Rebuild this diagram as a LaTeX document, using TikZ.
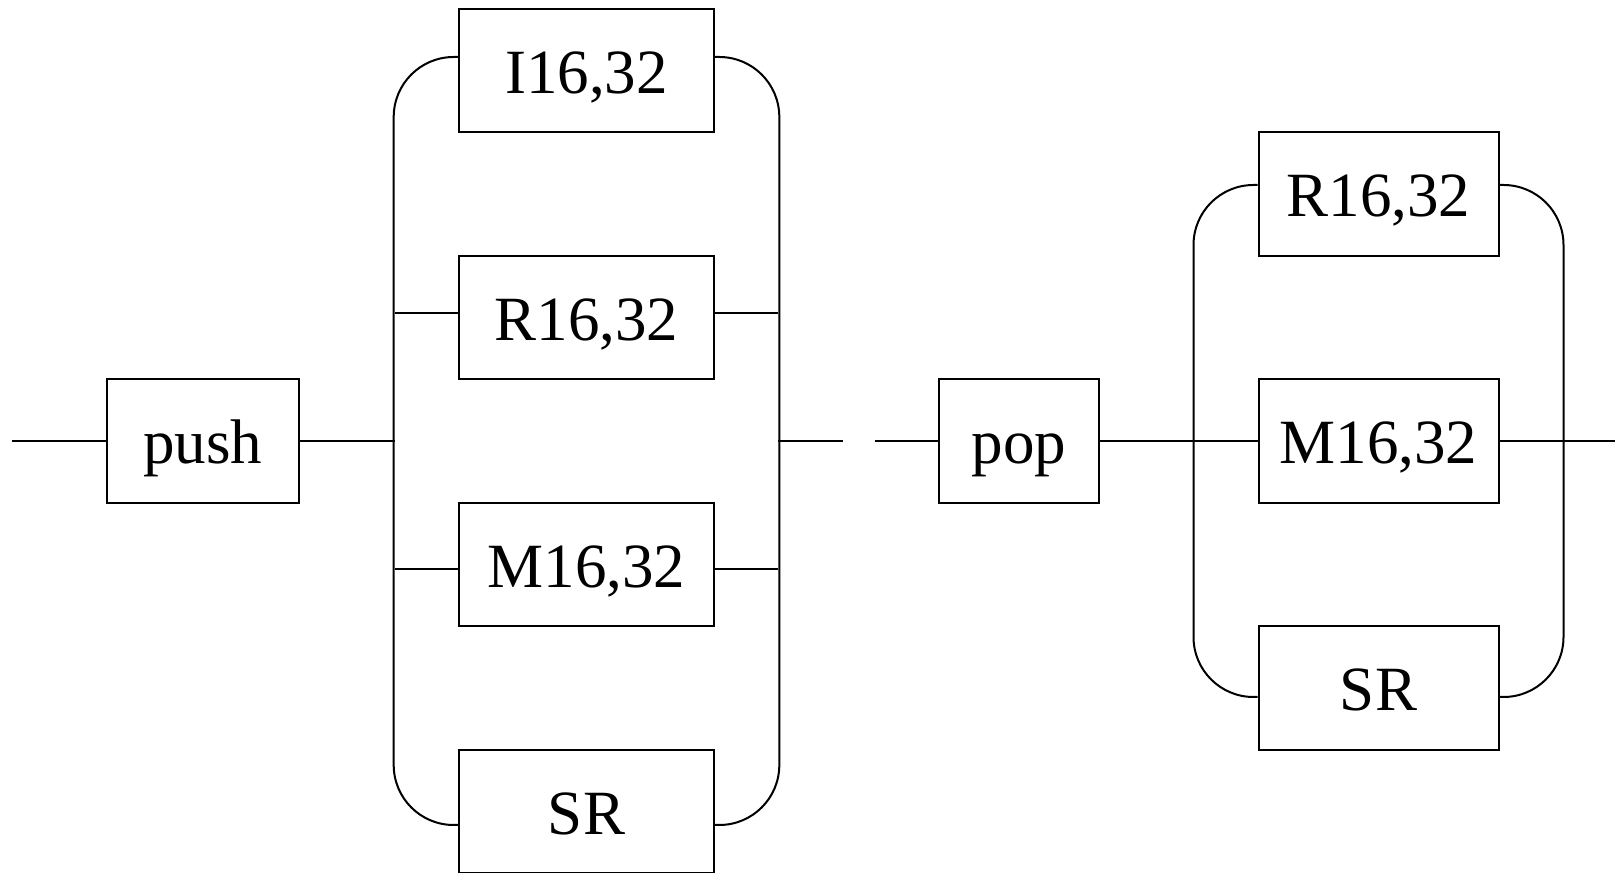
\documentclass[tikz,border=0pt]{standalone}
\usepackage{fontspec}
\setmainfont{Liberation Serif}
\usetikzlibrary{calc}
\begin{document}
\begin{tikzpicture}[x=1pt,y=1pt,line width=2pt,
  term/.style={draw,inner sep=0pt,minimum height=123.5pt,
    text height=46pt,text depth=0pt,font=\fontsize{63}{70}\selectfont}]
\useasboundingbox (0,0) rectangle (1615,873);

% ---- push group ----
\node[term,minimum width=192pt] (push) at (203,432) {push};
\node[term,minimum width=255pt] (i16L) at (586.5,802.5) {I16,32};
\node[term,minimum width=255pt] (r16L) at (586.5,555.5) {R16,32};
\node[term,minimum width=255pt] (m16L) at (586.5,308.5) {M16,32};
\node[term,minimum width=255pt] (srL)  at (586.5,61.5)  {SR};

% ---- pop group ----
\node[term,minimum width=160pt] (pop)  at (1019,432)   {pop};
\node[term,minimum width=240pt] (r16R) at (1378.5,679) {R16,32};
\node[term,minimum width=240pt] (m16R) at (1378.5,432) {M16,32};
\node[term,minimum width=240pt] (srR)  at (1378.5,185) {SR};

% main line points
\coordinate (start)  at (11.7,432);
\coordinate (jL)     at (394.7,432);
\coordinate (jR)     at (778.3,432);
\coordinate (endA)   at (842.7,432);
\coordinate (startB) at (875,432);
\coordinate (stop)   at (1615,432);

% branch attachment points
\coordinate (i16Lin)  at ([yshift=13.5pt]i16L.west);
\coordinate (i16Lout) at ([yshift=13.5pt]i16L.east);
\coordinate (r16Lin)  at ([yshift=4.5pt]r16L.west);
\coordinate (r16Lout) at ([yshift=4.5pt]r16L.east);
\coordinate (m16Lin)  at ([yshift=-4.5pt]m16L.west);
\coordinate (m16Lout) at ([yshift=-4.5pt]m16L.east);
\coordinate (srLin)   at ([yshift=-13.5pt]srL.west);
\coordinate (srLout)  at ([yshift=-13.5pt]srL.east);
\coordinate (r16Rin)  at ([yshift=9pt]r16R.west);
\coordinate (r16Rout) at ([yshift=9pt]r16R.east);
\coordinate (srRin)   at ([yshift=-9pt]srR.west);
\coordinate (srRout)  at ([yshift=-9pt]srR.east);

% main line
\draw (start) -- (push.west);
\draw (push.east) -- (jL);
\draw (jR) -- (endA);
\draw (startB) -- (pop.west);
\draw (pop.east) -- (m16R.west);
\draw (m16R.east) -- (stop);

% push group buses
\draw (i16Lin) -- ++(-4.3,0) arc[start angle=90,end angle=180,radius=60]
  -- ($(srLin)+(-64.3,60)$) arc[start angle=180,end angle=270,radius=60] -- (srLin);
\draw (i16Lout) -- ++(4.3,0) arc[start angle=90,end angle=0,radius=60]
  -- ($(srLout)+(64.3,60)$) arc[start angle=0,end angle=-90,radius=60] -- (srLout);
\draw (r16Lin) -- (jL |- r16Lin);
\draw (r16Lout) -- (jR |- r16Lout);
\draw (m16Lin) -- (jL |- m16Lin);
\draw (m16Lout) -- (jR |- m16Lout);

% pop group buses
\draw (r16Rin) -- ++(-4,0) arc[start angle=90,end angle=180,radius=60]
  -- ($(srRin)+(-64,60)$) arc[start angle=180,end angle=270,radius=60] -- (srRin);
\draw (r16Rout) -- ++(4,0) arc[start angle=90,end angle=0,radius=60]
  -- ($(srRout)+(64,60)$) arc[start angle=0,end angle=-90,radius=60] -- (srRout);
\end{tikzpicture}
\end{document}
